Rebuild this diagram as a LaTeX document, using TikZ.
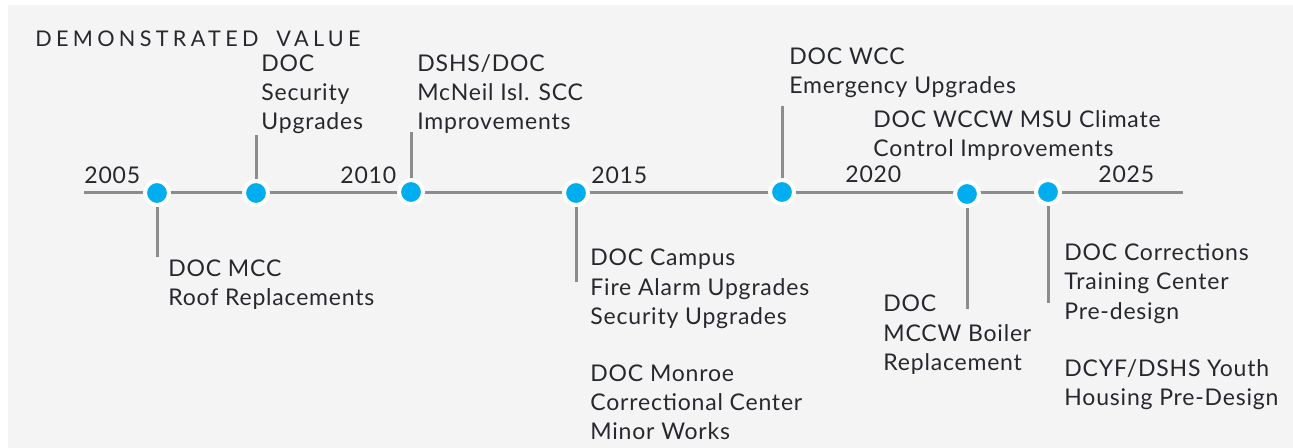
\documentclass[tikz,border=0pt]{standalone}
\usepackage{fontspec}
\setmainfont{Lato}[LetterSpace=3.5]
\newfontfamily\titlefont[LetterSpace=20]{Lato}
\usepackage{tikz}

\definecolor{bggray}{HTML}{F4F4F4}
\definecolor{dotblue}{HTML}{00AEEF}
\definecolor{linegray}{HTML}{8C8C8F}
\definecolor{inkgray}{HTML}{26282E}

\begin{document}
\begin{tikzpicture}[x=0.5pt, y=-0.5pt,
    evdot/.style={circle, inner sep=0pt, minimum size=12pt, fill=dotblue, draw=white, line width=2pt},
    stem/.style={draw=linegray, line width=1.5pt},
    evtext/.style={anchor=base west, inner sep=0pt, align=left, text=inkgray,
      font=\fontsize{11.5}{14.5}\selectfont},
    yrlabel/.style={anchor=base west, inner sep=0pt, text=inkgray,
      font=\fontsize{11.5}{14.5}\selectfont}]
\useasboundingbox (0,0) rectangle (1293,448);
\fill[bggray] (8,5) rectangle (1293,448);

% Title
\node[anchor=base west, inner sep=0pt, text=inkgray, font=\titlefont\fontsize{10.8}{12}\selectfont]
  (title) at (35,47) {DEMONSTRATED\hspace{4pt} VALUE};

% Time axis
\coordinate (axstart) at (84,193);
\coordinate (axend)   at (1183,193);
\draw[stem] (axstart) -- (axend);

% Years
\node[yrlabel] (y2005) at (84,184)   {2005};
\node[yrlabel] (y2010) at (340,184)  {2010};
\node[yrlabel] (y2015) at (591,184)  {2015};
\node[yrlabel] (y2020) at (845,183)  {2020};
\node[yrlabel] (y2025) at (1098,183) {2025};

% Events on the axis
\node[evdot] (mcc)    at (157,193) {};
\node[evdot] (secup)  at (256,193) {};
\node[evdot] (mcneil) at (411,192) {};
\node[evdot] (campus) at (576,193) {};
\node[evdot] (wcc)    at (782,192) {};
\node[evdot] (mccw)   at (967,194) {};
\node[evdot] (train)  at (1048,192) {};

% Stems
\coordinate (mccend)    at (157,257);
\coordinate (secupend)  at (256,135);
\coordinate (mcneilend) at (411,132);
\coordinate (campusend) at (576,282);
\coordinate (wccend)    at (782,106);
\coordinate (mccwend)   at (967,309);
\coordinate (trainend)  at (1048,303);
\draw[stem] (mcc.south) -- (mccend);
\draw[stem] (secup.north) -- (secupend);
\draw[stem] (mcneil.north) -- (mcneilend);
\draw[stem] (campus.south) -- (campusend);
\draw[stem] (wcc.north) -- (wccend);
\draw[stem] (mccw.south) -- (mccwend);
\draw[stem] (train.south) -- (trainend);

% Event texts (placed at the baseline of their last line)
\node[evtext] (secuptxt)  at (261,130)  {DOC\\Security\\Upgrades};
\node[evtext] (mcneiltxt) at (417,130)  {DSHS/DOC\\McNeil Isl. SCC\\Improvements};
\node[evtext] (mcctxt)    at (168,306)  {DOC MCC\\Roof Replacements};
\node[evtext] (campustxt) at (590,324)  {DOC Campus\\Fire Alarm Upgrades\\Security Upgrades};
\node[evtext] (monroetxt) at (590,439)  {DOC Monroe\\Correctional Center\\Minor Works};
\node[evtext] (wcctxt)    at (789,94)   {DOC WCC\\Emergency Upgrades};
\node[evtext] (wccwtxt)   at (873,157)  {DOC WCCW MSU Climate\\Control Improvements};
\node[evtext] (mccwtxt)   at (883,370)  {DOC\\MCCW Boiler\\Replacement};
\node[evtext] (traintxt)  at (1064,319) {DOC Corrections\\Training Center\\Pre-design};
\node[evtext] (youthtxt)  at (1064,405) {DCYF/DSHS Youth\\Housing Pre-Design};
\end{tikzpicture}
\end{document}
